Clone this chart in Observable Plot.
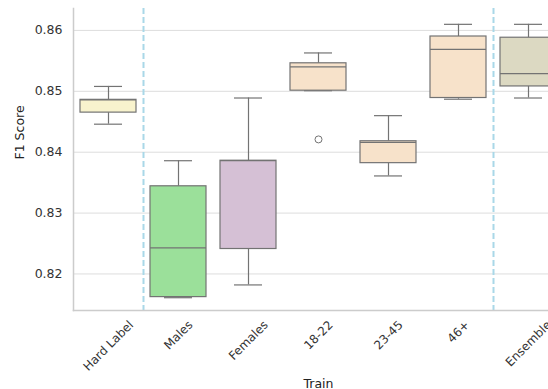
<!DOCTYPE html>
<html>
<head>
<meta charset="utf-8">
<script src="https://cdn.jsdelivr.net/npm/d3@7"></script>
<script src="https://cdn.jsdelivr.net/npm/@observablehq/plot@0.6"></script>
<style>
  html, body { margin: 0; padding: 0; background: #fff; overflow: hidden; }
  #chart { width: 548px; height: 389px; overflow: hidden; }
  #chart svg { max-width: none !important; font-family: "DejaVu Sans", sans-serif; }
</style>
</head>
<body>
<div id="chart"></div>
<script>
// ---- data ----
const categories = ["Hard Label", "Males", "Females", "18-22", "23-45", "46+", "Ensemble"];
const whiskerLow  = [0.8446, 0.8161, 0.8182, 0.8501, 0.8361, 0.8487, 0.8489];
const q1          = [0.8465, 0.8162, 0.8241, 0.8501, 0.8382, 0.8489, 0.8508];
const median      = [0.8486, 0.8243, 0.8386, 0.8540, 0.8416, 0.8569, 0.8529];
const q3          = [0.8486, 0.8344, 0.8386, 0.8546, 0.8418, 0.8590, 0.8588];
const whiskerHigh = [0.8508, 0.8386, 0.8489, 0.8563, 0.8460, 0.8610, 0.8610];
const fills       = ["#f8f3cd", "#9be09a", "#d5c0d5", "#f7e2ca", "#f7e2ca", "#f7e2ca", "#dcd9c2"];
const outlierCats = ["18-22"];
const outlierVals = [0.8421];
const separatorsAfter = ["Hard Label", "46+"];
const yTicks = [0.82, 0.83, 0.84, 0.85, 0.86];

const boxes = categories.map((c, i) => ({
  cat: c, lo: whiskerLow[i], q1: q1[i], med: median[i], q3: q3[i], hi: whiskerHigh[i], fill: fills[i]
}));
const outliers = outlierCats.map((c, i) => ({cat: c, v: outlierVals[i]}));

const W = 573, H = 389, mL = 73, mR = 10, mT = 8, mB = 79;
const step = (W - mL - mR) / categories.length;
const edge = "#737373";

// measure label widths for centered rotated ticks
const ctx = document.createElement("canvas").getContext("2d");
const tickFont = 12;
ctx.font = `${tickFont}px "DejaVu Sans"`;
const tickMarks = categories.map(c => {
  const w = ctx.measureText(c).width;
  const off = 9 + (w + tickFont * 0.8) / (2 * Math.SQRT2);
  return Plot.text([c], {
    x: d => d, frameAnchor: "bottom", text: d => d, rotate: -45,
    textAnchor: "middle", lineAnchor: "middle",
    dy: off, fontSize: tickFont, fill: "#333"
  });
});

const plot = Plot.plot({
  width: W, height: H,
  marginLeft: mL, marginRight: mR, marginTop: mT, marginBottom: mB,
  style: {fontFamily: "DejaVu Sans, sans-serif", background: "#fff", overflow: "visible"},
  x: {domain: categories, paddingInner: 0.2, paddingOuter: 0.1, axis: null},
  y: {domain: [0.8140, 0.8636], axis: null},
  marks: [
    Plot.gridY(yTicks, {stroke: "#dddddd", strokeOpacity: 1, strokeWidth: 1}),
    Plot.ruleX(separatorsAfter, {x: d => d, dx: step / 2, stroke: "#a9d8e8", strokeWidth: 2, strokeDasharray: "6,3"}),
    Plot.ruleX(boxes, {x: "cat", y1: "lo", y2: "q1", stroke: edge, strokeWidth: 1.2}),
    Plot.ruleX(boxes, {x: "cat", y1: "q3", y2: "hi", stroke: edge, strokeWidth: 1.2}),
    Plot.tickY(boxes, {x: "cat", y: "lo", stroke: edge, strokeWidth: 1.2, insetLeft: 14, insetRight: 14}),
    Plot.tickY(boxes, {x: "cat", y: "hi", stroke: edge, strokeWidth: 1.2, insetLeft: 14, insetRight: 14}),
    Plot.barY(boxes, {x: "cat", y1: "q1", y2: "q3", fill: "fill", stroke: edge, strokeWidth: 1.2}),
    Plot.tickY(boxes, {x: "cat", y: "med", stroke: edge, strokeWidth: 1.2}),
    Plot.dot(outliers, {x: "cat", y: "v", r: 3.5, stroke: edge, fill: "none", strokeWidth: 1}),
    Plot.frame({anchor: "left", stroke: "#cccccc", strokeWidth: 1.5}),
    Plot.frame({anchor: "bottom", stroke: "#cccccc", strokeWidth: 1.5}),
    Plot.axisY(yTicks, {tickSize: 0, tickPadding: 11, tickFormat: d3.format(".2f"), fontSize: 12.5, fill: "#333", label: null}),
    ...tickMarks,
    Plot.text(["Train"], {frameAnchor: "bottom", dx: 0, dy: 77, text: d => d, fontSize: 12.5, fill: "#222", lineAnchor: "bottom"}),
    Plot.text(["F1 Score"], {frameAnchor: "left", dx: -54, rotate: -90, text: d => d, fontSize: 12.5, fill: "#222", lineAnchor: "middle"})
  ]
});

document.getElementById("chart").appendChild(plot);
</script>
</body>
</html>
